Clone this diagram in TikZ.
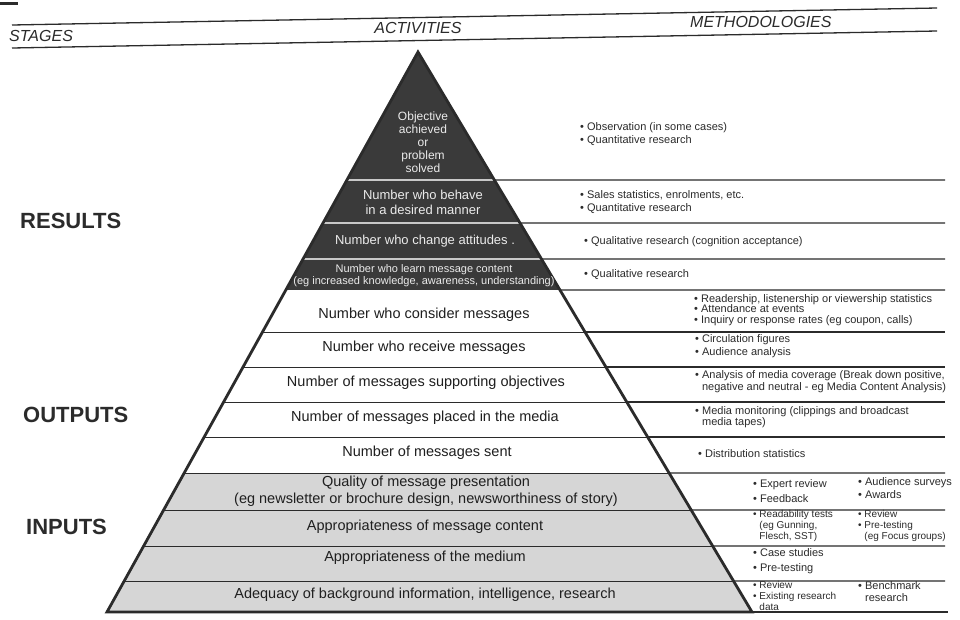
\documentclass[tikz,border=0pt]{standalone}
\usepackage{fontspec}
\setmainfont{Liberation Sans}
\usetikzlibrary{calc}
\definecolor{ink}{HTML}{2B2B2B}
\definecolor{darkband}{HTML}{3A3A3A}
\definecolor{grayband}{HTML}{D6D6D6}
\definecolor{lightsep}{HTML}{C8C8C8}
\newcommand\fsz[2]{\fontsize{#1}{#2}\selectfont}
\newcommand\bul{\textbullet\ }
\newcommand\ind{\hphantom{\textbullet\ }}
\begin{document}
\begin{tikzpicture}[x=1pt,y=-1pt,
  hdr/.style={font=\fsz{16}{18}\itshape, text=ink, inner sep=0},
  stage/.style={font=\fsz{22}{24}\bfseries, text=ink, anchor=west, inner sep=0},
  act/.style={font=\fsz{14.5}{17}, text=black!88, inner sep=0, align=center},
  actdark/.style={font=\fsz{13}{15}, text=white!92!black, inner sep=0, align=center},
  meth/.style={font=\fsz{11}{13}, text=ink, inner sep=0, align=left, anchor=west},
  hline/.style={line width=1.3pt, draw=ink},
  extline/.style={line width=1.1pt, draw=ink},
  insep/.style={line width=0.9pt, draw=ink},
  darksep/.style={line width=1.4pt, draw=lightsep},
  outline/.style={line width=2.8pt, draw=ink, line join=miter}
]
\useasboundingbox (0,0) rectangle (960,619);
\fill[white] (0,0) rectangle (960,619);

% top-left mark and header rules
\fill[ink] (0,2) rectangle (18,5);
\draw[hline] (12,25) -- (937,8);
\draw[hline] (12,48) -- (937,31);
\node[hdr, anchor=west] (hstages) at (9,36) {STAGES};
\node[hdr] (hact) at (418,28) {ACTIVITIES};
\node[hdr, anchor=west] (hmeth) at (690,22) {METHODOLOGIES};

% pyramid geometry
\coordinate (A) at (418,52);
\coordinate (BL) at (107,612);
\coordinate (BR) at (752,612);

\begin{scope}
  \clip (A) -- (BL) -- (BR) -- cycle;
  \fill[darkband] (0,40) rectangle (960,290);
  \fill[grayband] (0,473) rectangle (960,612);
  \foreach \yy in {180,223,259} {\draw[darksep] (0,\yy) -- (960,\yy);}
  \foreach \yy in {332,367,402,437,473,510,546,581} {\draw[insep] (0,\yy) -- (960,\yy);}
\end{scope}

% extension rules to the methodologies column
\foreach \yy in {180,223,259,290,332,367,402,437,473,510,546,581} {
  \draw[extline] ($(A)!{(\yy-52)/560}!(BR)$) -- (945,\yy);
}

% pyramid outline and base rule
\draw[outline] (A) -- (BL) -- (BR) -- cycle;
\draw[extline, line width=1.6pt] (BR) -- (948,612);

% stages
\node[stage] (sres) at (20,221) {RESULTS};
\node[stage] (sout) at (23,415) {OUTPUTS};
\node[stage] (sinp) at (26,527) {INPUTS};

% activities: results (dark)
\node[actdark, font=\fsz{12}{13}] (a1) at (423,142) {Objective\\achieved\\or\\problem\\solved};
\node[actdark, font=\fsz{13}{15}] (a2) at (423,202.5) {Number who behave\\in a desired manner};
\node[actdark] (a3) at (425,241) {Number who change attitudes .};
\node[actdark, font=\fsz{11}{11.5}] (a4) at (424,275.5) {Number who learn message content\\(eg increased knowledge, awareness, understanding)};

% activities: outputs
\node[act] (a5) at (424,315) {Number who consider messages};
\node[act] (a6) at (424,348) {Number who receive messages};
\node[act] (a7) at (426,383) {Number of messages supporting objectives};
\node[act] (a8) at (425,418) {Number of messages placed in the media};
\node[act] (a9) at (427,453) {Number of messages sent};

% activities: inputs
\node[act, font=\fsz{14.5}{17}] (a10) at (426,491.5) {Quality of message presentation\\(eg newsletter or brochure design, newsworthiness of story)};
\node[act] (a11) at (425,527) {Appropriateness of message content};
\node[act] (a12) at (425,558) {Appropriateness of the medium};
\node[act] (a13) at (425,595) {Adequacy of background information, intelligence, research};

% methodologies
\node[meth] (m1) at (580,134) {\bul Observation (in some cases)\\\bul Quantitative research};
\node[meth] (m2) at (580,202.5) {\bul Sales statistics, enrolments, etc.\\\bul Quantitative research};
\node[meth] (m3) at (584,242) {\bul Qualitative research (cognition acceptance)};
\node[meth] (m4) at (584,275) {\bul Qualitative research};
\node[meth, font=\fsz{11}{10.5}] (m5) at (694,310) {\bul Readership, listenership or viewership statistics\\\bul Attendance at events\\\bul Inquiry or response rates (eg coupon, calls)};
\node[meth] (m6) at (695,346) {\bul Circulation figures\\\bul Audience analysis};
\node[meth, font=\fsz{11}{12}] (m7) at (695,382) {\bul Analysis of media coverage (Break down positive,\\\ind negative and neutral - eg Media Content Analysis)};
\node[meth, font=\fsz{11}{11.5}] (m8) at (695,417) {\bul Media monitoring (clippings and broadcast\\\ind media tapes)};
\node[meth] (m9) at (698,453.5) {\bul Distribution statistics};
\node[meth, font=\fsz{11}{15}] (m10) at (753,491.5) {\bul Expert review\\\bul Feedback};
\node[meth, font=\fsz{11}{13}] (m11) at (858,488.5) {\bul Audience surveys\\\bul Awards};
\node[meth, font=\fsz{10}{11}] (m12) at (753,525.5) {\bul Readability tests\\\ind (eg Gunning,\\\ind Flesch, SST)};
\node[meth, font=\fsz{10}{11}] (m13) at (858,525.5) {\bul Review\\\bul Pre-testing\\\ind (eg Focus groups)};
\node[meth, font=\fsz{11}{15}] (m14) at (753,561.5) {\bul Case studies\\\bul Pre-testing};
\node[meth, font=\fsz{10}{11}] (m15) at (753,596) {\bul Review\\\bul Existing research\\\ind data};
\node[meth, font=\fsz{11}{12}] (m16) at (858,591.5) {\bul Benchmark\\\ind research};
\end{tikzpicture}
\end{document}
